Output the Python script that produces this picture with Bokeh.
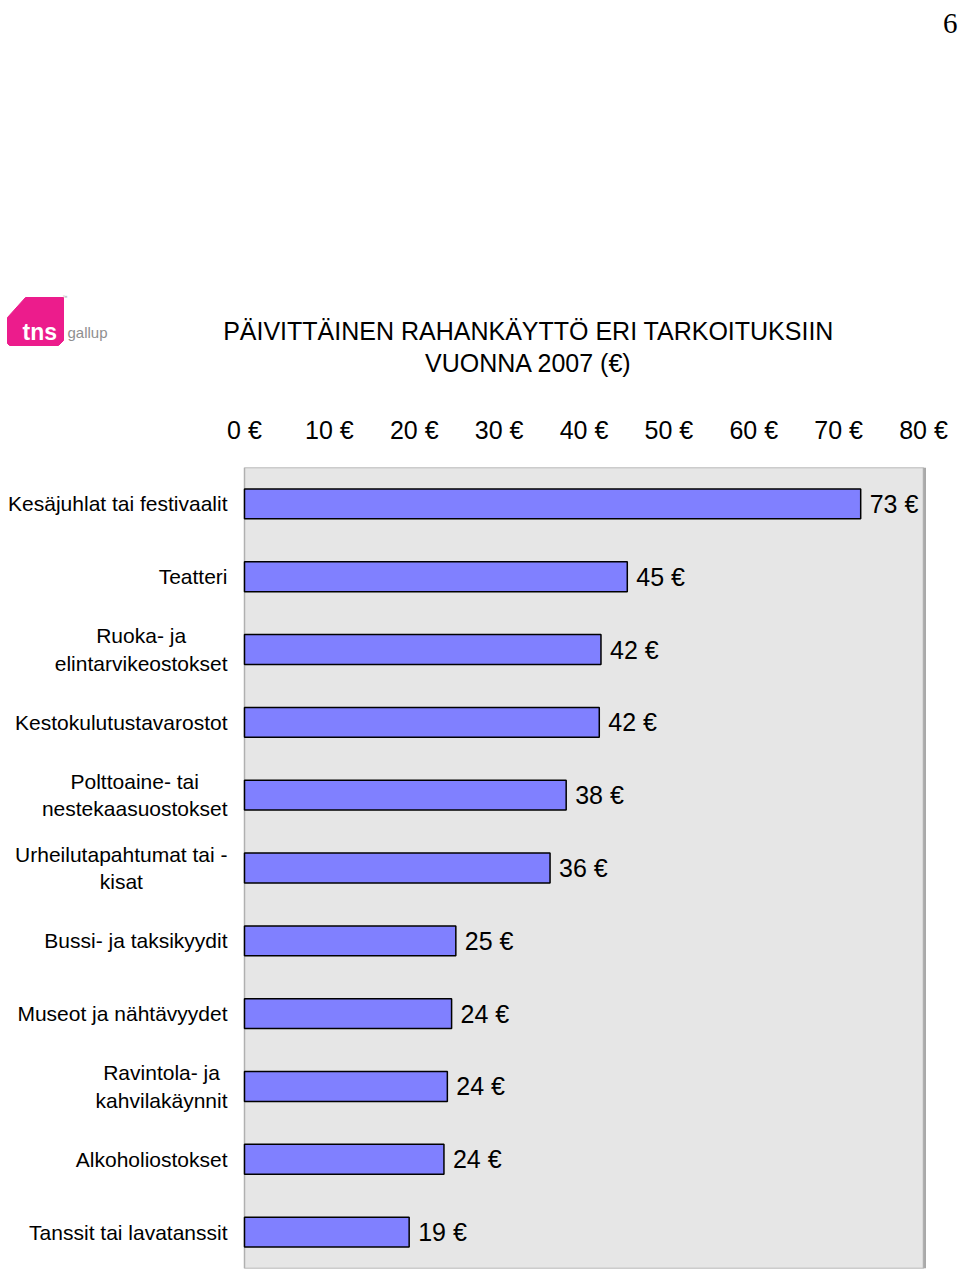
from bokeh.plotting import figure
from bokeh.layouts import column
from bokeh.models import (ColumnDataSource, FactorRange, Range1d, FixedTicker,
                          PrintfTickFormatter, BoxAnnotation)
from bokeh.core.properties import value
from bokeh.embed import file_html
from bokeh.resources import INLINE

# ---------------- data ----------------
categories = [
    "Kesäjuhlat tai festivaalit",
    "Teatteri",
    "Ruoka- ja\nelintarvikeostokset",
    "Kestokulutustavarostot",
    "Polttoaine- tai\nnestekaasuostokset",
    "Urheilutapahtumat tai -\nkisat",
    "Bussi- ja taksikyydit",
    "Museot ja nähtävyydet",
    "Ravintola- ja\nkahvilakäynnit",
    "Alkoholiostokset",
    "Tanssit tai lavatanssit",
]
values = [72.6, 45.1, 42.0, 41.8, 37.9, 36.0, 24.9, 24.4, 23.9, 23.5, 19.4]
value_labels = ["73 €", "45 €", "42 €", "42 €", "38 €", "36 €",
                "25 €", "24 €", "24 €", "24 €", "19 €"]
ticks = [0, 10, 20, 30, 40, 50, 60, 70, 80]
title_lines = ["PÄIVITTÄINEN RAHANKÄYTTÖ ERI TARKOITUKSIIN", "VUONNA 2007 (€)"]

# ---------------- layout ----------------
W = 960
HEAD_H = 400
CHART_H = 1270 - HEAD_H
ZERO_PX, END_PX = 244, 923          # page x of 0 and of 80
XMAX = 80
SCALE_X = (END_PX - ZERO_PX) / XMAX
XMIN = -ZERO_PX / SCALE_X
XRIGHT = (W - ZERO_PX) / SCALE_X    # frame spans the full width
FRAME_TOP = 467 - HEAD_H
FRAME_BOTTOM = 1268 - HEAD_H
N = len(categories)
FONT = "Liberation Sans"

# ---------------- header (title, logo, page number) ----------------
head = figure(width=W, height=HEAD_H, x_range=Range1d(0, W),
              y_range=Range1d(HEAD_H, 0), x_axis_location=None,
              y_axis_location=None, toolbar_location=None,
              output_backend="svg", min_border=0)
head.outline_line_color = None
head.grid.visible = False

head.text(x=[528, 528], y=[330, 362], text=title_lines, text_align="center",
          text_baseline="middle", text_font=value(FONT),
          text_font_size="25px", text_color="black")
head.text(x=[957], y=[23], text=["6"], text_align="right",
          text_baseline="alphabetic", text_font=value("Liberation Serif"),
          text_font_size="29px", text_color="black")
# logo
head.patch(x=[7, 25, 63, 63, 58, 9, 7], y=[317, 297, 297, 340, 345, 345, 343],
           fill_color="#ec1c8c", line_color="#ec1c8c", line_width=1)
head.text(x=[22], y=[331], text=["tns"], text_align="left",
          text_baseline="alphabetic", text_font=value(FONT),
          text_font_style="bold", text_font_size="23px", text_color="white")
head.text(x=[67], y=[332], text=["gallup"], text_align="left",
          text_baseline="alphabetic", text_font=value(FONT),
          text_font_size="15px", text_color="#8f8f8f")
head.text(x=[62], y=[296], text=["™"], text_align="left",
          text_baseline="middle", text_font=value(FONT),
          text_font_size="5px", text_color="#999999")

# ---------------- chart ----------------
p = figure(width=W, height=CHART_H,
           x_range=Range1d(XMIN, XRIGHT),
           y_range=FactorRange(factors=list(reversed(categories))),
           x_axis_location="above", y_axis_location=None,
           toolbar_location=None, output_backend="svg",
           min_border_left=0, min_border_right=0,
           min_border_top=FRAME_TOP, min_border_bottom=CHART_H - FRAME_BOTTOM)
p.outline_line_color = None
p.grid.visible = False
p.background_fill_color = "white"
p.border_fill_color = "white"

ax = p.xaxis[0]
ax.ticker = FixedTicker(ticks=ticks)
ax.formatter = PrintfTickFormatter(format="%d €")
ax.axis_line_color = None
ax.major_tick_line_color = None
ax.minor_tick_line_color = None
ax.major_tick_out = 0
ax.major_tick_in = 0
ax.major_label_standoff = 24
ax.major_label_text_font = FONT
ax.major_label_text_font_size = "25px"
ax.major_label_text_color = "black"

# plot area background with shadow
shadow = BoxAnnotation(left=0, right=XMAX + 2.5 / SCALE_X, fill_color="#a8a8a8",
                       fill_alpha=1, line_alpha=0, level="underlay")
area = BoxAnnotation(left=0, right=XMAX, fill_color="#e6e6e6", fill_alpha=1,
                     line_color="#b0b0b0", line_alpha=1, line_width=1.5,
                     level="underlay")
p.add_layout(shadow)
p.add_layout(area)

src = ColumnDataSource(dict(cat=categories, val=values, lab=value_labels,
                            lx=[-2.0] * N))

p.hbar(y="cat", left=0, right="val", height=0.41, source=src,
       fill_color="#8080ff", line_color="black", line_width=1.5)

p.text(x="val", y="cat", text="lab", source=src, x_offset=9,
       text_align="left", text_baseline="middle",
       text_font=value(FONT), text_font_size="25px", text_color="black")

p.text(x="lx", y="cat", text="cat", source=src,
       anchor=value("center_right"), text_align="center",
       text_baseline="middle", text_line_height=1.2,
       text_font=value(FONT), text_font_size="21px", text_color="black")

layout = column(head, p, spacing=0)
open("out.html", "w").write(file_html(layout, INLINE))
